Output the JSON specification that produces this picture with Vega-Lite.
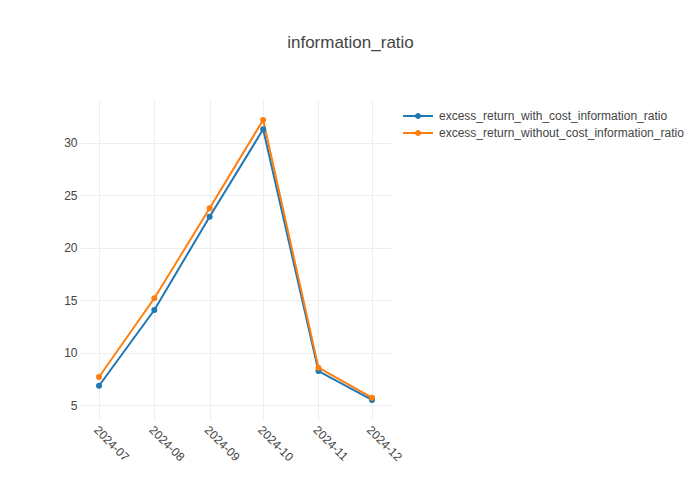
{
  "$schema": "https://vega.github.io/schema/vega-lite/v6.json",
  "width": 311,
  "height": 320,
  "autosize": {"type": "none"},
  "padding": {"left": 80, "top": 100, "right": 309, "bottom": 80},
  "background": "white",
  "config": {
    "view": {"stroke": null},
    "font": "Liberation Sans"
  },
  "title": {
    "text": "information_ratio",
    "fontSize": 17,
    "font": "Liberation Sans",
    "fontWeight": "normal",
    "color": "#444",
    "anchor": "middle",
    "dx": 115,
    "offset": 48
  },
  "data": {
    "values": [
      {"month": "2024-07-01", "series": "excess_return_with_cost_information_ratio", "value": 6.84},
      {"month": "2024-08-01", "series": "excess_return_with_cost_information_ratio", "value": 14.06},
      {"month": "2024-09-01", "series": "excess_return_with_cost_information_ratio", "value": 22.97},
      {"month": "2024-10-01", "series": "excess_return_with_cost_information_ratio", "value": 31.3},
      {"month": "2024-11-01", "series": "excess_return_with_cost_information_ratio", "value": 8.24},
      {"month": "2024-12-01", "series": "excess_return_with_cost_information_ratio", "value": 5.48},
      {"month": "2024-07-01", "series": "excess_return_without_cost_information_ratio", "value": 7.67},
      {"month": "2024-08-01", "series": "excess_return_without_cost_information_ratio", "value": 15.18},
      {"month": "2024-09-01", "series": "excess_return_without_cost_information_ratio", "value": 23.77},
      {"month": "2024-10-01", "series": "excess_return_without_cost_information_ratio", "value": 32.2},
      {"month": "2024-11-01", "series": "excess_return_without_cost_information_ratio", "value": 8.56},
      {"month": "2024-12-01", "series": "excess_return_without_cost_information_ratio", "value": 5.7}
    ]
  },
  "encoding": {
    "x": {
      "field": "month",
      "type": "temporal",
      "scale": {"type": "utc", "domain": ["2024-06-20T08:00:00Z", "2024-12-11T16:00:00Z"], "nice": false},
      "axis": {
        "title": null,
        "format": "%Y-%m",
        "tickCount": {"interval": "month", "step": 1},
        "labelAngle": 45,
        "labelAlign": "left",
        "labelBaseline": "top",
        "labelPadding": 4,
        "labelFontSize": 12,
        "labelColor": "#444",
        "labelFont": "Liberation Sans",
        "ticks": false,
        "domain": false,
        "grid": true,
        "gridColor": "#eeeeee",
        "gridWidth": 1,
        "labelOverlap": false,
        "labelFlush": false
      }
    },
    "y": {
      "field": "value",
      "type": "quantitative",
      "scale": {"domain": [3.57, 34.1], "nice": false, "zero": false},
      "axis": {
        "title": null,
        "values": [5, 10, 15, 20, 25, 30],
        "labelFontSize": 12,
        "labelColor": "#444",
        "labelFont": "Liberation Sans",
        "labelPadding": 3,
        "ticks": false,
        "domain": false,
        "grid": true,
        "gridColor": "#eeeeee",
        "gridWidth": 1
      }
    },
    "color": {
      "field": "series",
      "type": "nominal",
      "scale": {
        "domain": ["excess_return_with_cost_information_ratio", "excess_return_without_cost_information_ratio"],
        "range": ["#1f77b4", "#ff7f0e"]
      },
      "legend": {
        "title": null,
        "orient": "none",
        "legendX": 332,
        "legendY": 10,
        "padding": 0,
        "symbolType": "M-3,-0.2H3V0.2H-3Z M0.6,0A0.6,0.6 0 1,1 -0.6,0A0.6,0.6 0 1,1 0.6,0Z",
        "symbolSize": 100,
        "symbolStrokeWidth": 0,
        "symbolOpacity": 1,
        "labelOffset": 15,
        "labelFontSize": 12,
        "labelColor": "#444",
        "labelFont": "Liberation Sans",
        "labelLimit": 400,
        "rowPadding": 5
      }
    }
  },
  "layer": [
    {"mark": {"type": "line", "strokeWidth": 2}},
    {"mark": {"type": "point", "filled": true, "size": 36, "opacity": 1}}
  ]
}
